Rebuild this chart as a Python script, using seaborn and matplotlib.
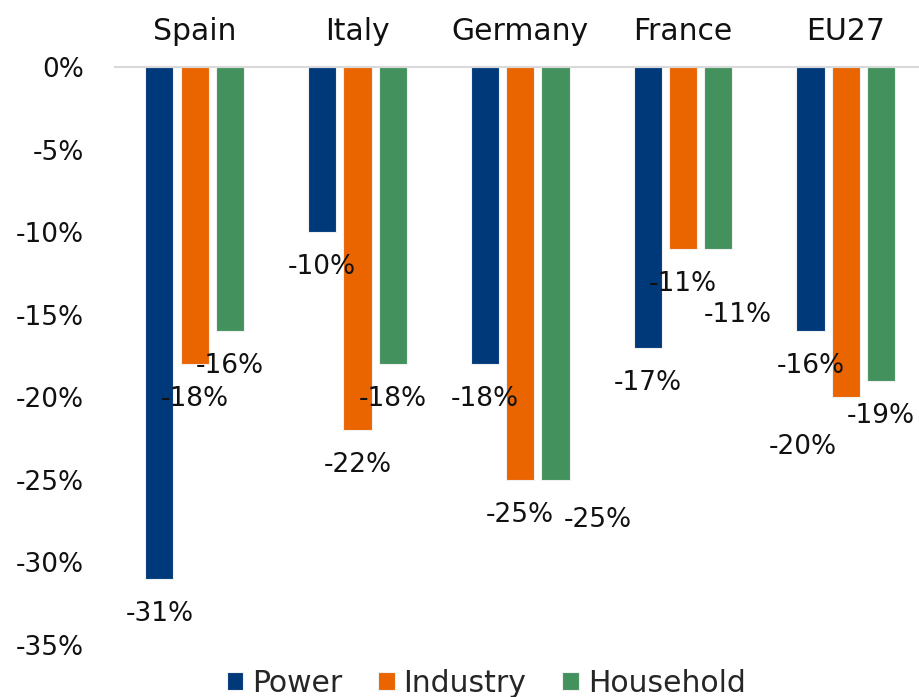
import pandas as pd
import matplotlib
matplotlib.use("Agg")
import matplotlib.pyplot as plt
import seaborn as sns

# Change by sector and country
countries = ["Spain", "Italy", "Germany", "France", "EU27"]
sectors = ["Power", "Industry", "Household"]
power = [-31, -10, -18, -17, -16]
industry = [-18, -22, -25, -11, -20]
household = [-16, -18, -25, -11, -19]
y_ticks = [0, -5, -10, -15, -20, -25, -30, -35]

colors = {"Power": "#00397A", "Industry": "#EA6400", "Household": "#43915D"}

sns.set_theme(style="white")
plt.rcParams['font.family'] = ['DejaVu Sans']

df = pd.DataFrame({"Country": countries * 3,
                   "Sector": [s for s in sectors for _ in countries],
                   "Change": power + industry + household})

fig = plt.figure(figsize=(9.19, 6.97), dpi=100)
ax = fig.add_axes([0.125, 0.0746, 0.875, 0.8293])

sns.barplot(data=df, x="Country", y="Change", hue="Sector", order=countries,
            hue_order=sectors, palette=colors, saturation=1, width=0.65, gap=0.2,
            edgecolor="#f0f0f0", linewidth=0.8, ax=ax)

# label offsets in pixels (moved where labels would collide)
nudge = {("Household", "Germany"): (42, -40),
         ("Household", "France"): (20, -66),
         ("Industry", "EU27"): (-43, -50)}
for sector, cont in zip(sectors, ax.containers):
    for country, bar in zip(countries, cont):
        v = bar.get_height()
        dx, dy = nudge.get((sector, country), (0, -35))
        ax.annotate(f"{v:.0f}%", (bar.get_x() + bar.get_width() / 2, v),
                    xytext=(dx, dy), textcoords="offset pixels",
                    ha="center", va="center", fontsize=19, color="#111111")

ax.set_ylim(-35, 0)
ax.set_xlim(-0.49, 4.45)
ax.set_yticks(y_ticks)
ax.set_yticklabels([f"{t}%" for t in y_ticks])
ax.xaxis.tick_top()
ax.tick_params(axis="x", length=0, pad=15, labelsize=21.5, colors="#111111")
ax.tick_params(axis="y", length=0, pad=22, labelsize=19, colors="#111111")
ax.set_xlabel("")
ax.set_ylabel("")
for s in ["left", "right", "bottom"]:
    ax.spines[s].set_visible(False)
ax.spines["top"].set_color("#D9D9D9")
ax.spines["top"].set_linewidth(1.5)

ax.legend(loc="center", bbox_to_anchor=(0.529, 0.02), bbox_transform=fig.transFigure,
          ncol=3, frameon=False, fontsize=21.5, handlelength=0.55, handleheight=0.55,
          handletextpad=0.3, columnspacing=1.2, borderpad=0)

fig.savefig("out.png", dpi=100)
